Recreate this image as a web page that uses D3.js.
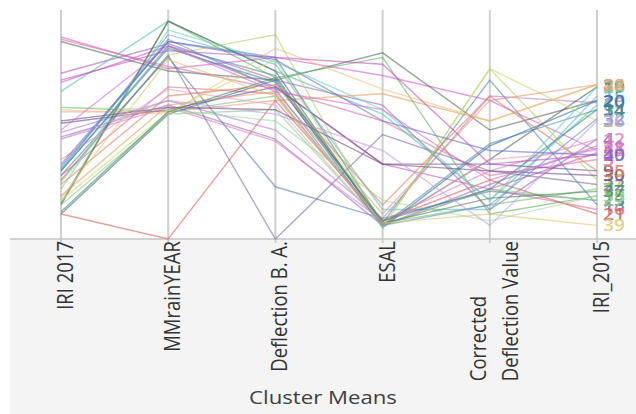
<!DOCTYPE html>
<html><head><meta charset="utf-8">
<script src="https://cdn.jsdelivr.net/npm/d3@7"></script>
<style>body{margin:0;background:#fff;}svg{display:block;font-family:"Open Sans","Noto Sans",sans-serif;}</style>
</head><body><svg id="c" width="636" height="414"></svg>
<script>
const dimensions = ["IRI 2017","MMrainYEAR","Deflection B. A.","ESAL","Corrected Deflection Value","IRI_2015"];
const dimLabels = [["IRI 2017"],["MMrainYEAR"],["Deflection B. A."],["ESAL"],["Corrected","Deflection Value"],["IRI_2015"]];
const clusterIds = d3.range(1,41).map(String);
const clusterColors = ["#d65fd6","#5a6a5a","#e070a0","#a060c0","#cc55cc","#55c0b0","#70c070","#e8a060","#6a4a8a","#b080d0",
 "#a070c8","#e080c0","#5080c0","#4a90a0","#60b8c8","#e07090","#b0d060","#60b060","#556060","#3a6aa8",
 "#d86060","#8070a0","#6080a0","#f0c080","#c8e070","#70d0c0","#88cc88","#e0a070","#c050c0","#705080",
 "#e8a0c0","#6090d0","#a0d8a0","#408888","#e08060","#c0a0e0","#4a8a5a","#d070d0","#d8c870","#7070c8"];
const iri2017 = [89,87,88,73,69,65,58,56,51,47,45,44,32,30,30,28,25,16,15,11,11,26,28,57,17,22,15,19,70,52,35,31,58,30,24,44,12,48,18,33];
const mmrain  = [75,74,76,86,85,96,56,56,57,61,59,58,87,85,90,67,81,96,96,55,0,81,80,55,56,92,55,59,83,58,66,88,57,84,63,61,56,85,79,87];
const deflBA  = [80,70,66,70,67,74,63,61,67,48,44,43,80,72,77,64,90,71,74,70,61,0,23,84,79,78,57,65,80,57,59,66,52,69,68,55,71,65,63,79];
const esal    = [72,82,52,59,33,55,7,64,33,9,6,8,7,6,13,6,5,80,6,5,8,46,9,66,5,57,6,11,77,33,6,6,17,8,15,39,7,57,7,52];
const corrDef = [61,48,28,13,22,17,15,52,33,63,24,30,70,42,13,22,75,11,35,41,26,30,21,52,75,17,22,61,33,30,35,15,8,22,63,6,18,26,11,39];
const iri2015 = [39,61,35,44,38,59,22,68,30,60,41,44,15,57,63,13,26,19,67,61,11,24,17,68,52,67,17,68,37,28,39,53,19,57,30,52,21,40,6,37];
const series = [iri2017, mmrain, deflBA, esal, corrDef, iri2015];
const rows = clusterIds.map((id,i)=>({id, color:clusterColors[i], values: series.map(s=>s[i])}));

const svg = d3.select("#c");
const SX = 1.2;        // horizontal stretch of the reference glyphs
const FS = 18.5;       // label font size
svg.append("rect").attr("x",10).attr("y",239).attr("width",626).attr("height",175).attr("fill","#f4f4f4");
const x = d3.scalePoint().domain(dimensions).range([61,597]);
const y = d3.scaleLinear().domain([0,100]).range([239,12]);

dimensions.forEach(d=>{
  svg.append("line").attr("x1",x(d)).attr("x2",x(d)).attr("y1",10).attr("y2",243)
    .attr("stroke","#cfcfcf").attr("stroke-width",2);
});
svg.append("line").attr("x1",10).attr("x2",636).attr("y1",239).attr("y2",239).attr("stroke","#c4c4c4").attr("stroke-width",1.5);

const line = d3.line().x((v,i)=>x(dimensions[i])).y(v=>y(v));
svg.append("g").selectAll("path").data(rows).join("path")
  .attr("d",r=>line(r.values)).attr("fill","none")
  .attr("stroke",r=>r.color).attr("stroke-width",1.4).attr("stroke-opacity",0.6);

svg.append("g").selectAll("text").data(rows).join("text")
  .attr("transform",r=>`translate(${x(dimensions[5])+6},${y(r.values[5])+6}) scale(${SX},1)`)
  .attr("fill",r=>r.color).attr("fill-opacity",0.85).attr("font-weight",600)
  .attr("font-size",16).text(r=>r.id);

// axis labels (rotated)
dimensions.forEach((d,i)=>{
  const lines = dimLabels[i];
  const n = lines.length;
  const g = svg.append("g");
  const t = g.append("text").attr("font-size",FS).attr("fill","#333");
  lines.forEach(l=>t.append("tspan").text(l));
  const tsp = t.selectAll("tspan").nodes();
  const maxLen = d3.max(tsp, nd=>nd.getComputedTextLength());
  const lh = 26.5;
  tsp.forEach((nd,j)=>{
    d3.select(nd).attr("x",-maxLen).attr("y", 0.36*FS + (j-(n-1)/2)*lh);
  });
  t.attr("text-anchor","start");
  g.attr("transform",`translate(${x(d)+4},241) scale(${SX},1) rotate(-90)`);
});
svg.append("text").attr("transform",`translate(323,404) scale(${SX},1)`).attr("text-anchor","middle")
  .attr("font-size",FS).attr("fill","#404040").text("Cluster Means");
</script></body></html>
